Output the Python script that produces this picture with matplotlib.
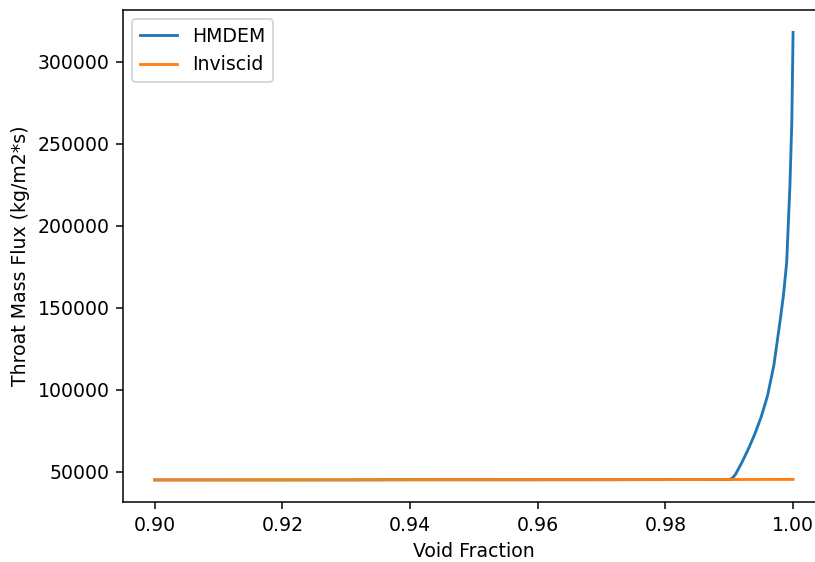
import matplotlib
matplotlib.use("Agg")
import matplotlib.pyplot as plt

# Void fraction samples and throat mass flux for each model
void_hmdem = [0.900, 0.910, 0.920, 0.930, 0.940, 0.950, 0.960, 0.970, 0.980,
              0.990, 0.9905, 0.991, 0.992, 0.993, 0.994, 0.995, 0.996, 0.997,
              0.998, 0.9985, 0.999, 0.9995, 0.9998, 1.000]
flux_hmdem = [45100, 45100, 45100, 45100, 45200, 45200, 45200, 45200, 45300,
              45300, 46200, 48600, 55900, 64000, 73000, 83500, 96400, 115200,
              143000, 158000, 178000, 224000, 263000, 318000]

void_inviscid = [0.900, 0.920, 0.940, 0.960, 0.980, 1.000]
flux_inviscid = [45100, 45150, 45200, 45250, 45300, 45400]

W, H, DPI = 815, 562, 136
fig = plt.figure(figsize=(W / DPI, H / DPI), dpi=DPI)
# axes extends slightly past the right edge of the canvas
ax = fig.add_axes([122.7 / W, 59.7 / H, (825 - 122.7) / W, (502.3 - 10) / H])

ax.plot(void_hmdem, flux_hmdem, color="#1f77b4", label="HMDEM")
ax.plot(void_inviscid, flux_inviscid, color="#ff7f0e", label="Inviscid")

ax.set_xlabel("Void Fraction")
ax.set_ylabel("Throat Mass Flux (kg/m2*s)")
ax.legend(loc="upper left")

fig.savefig("out.png", dpi=DPI)
